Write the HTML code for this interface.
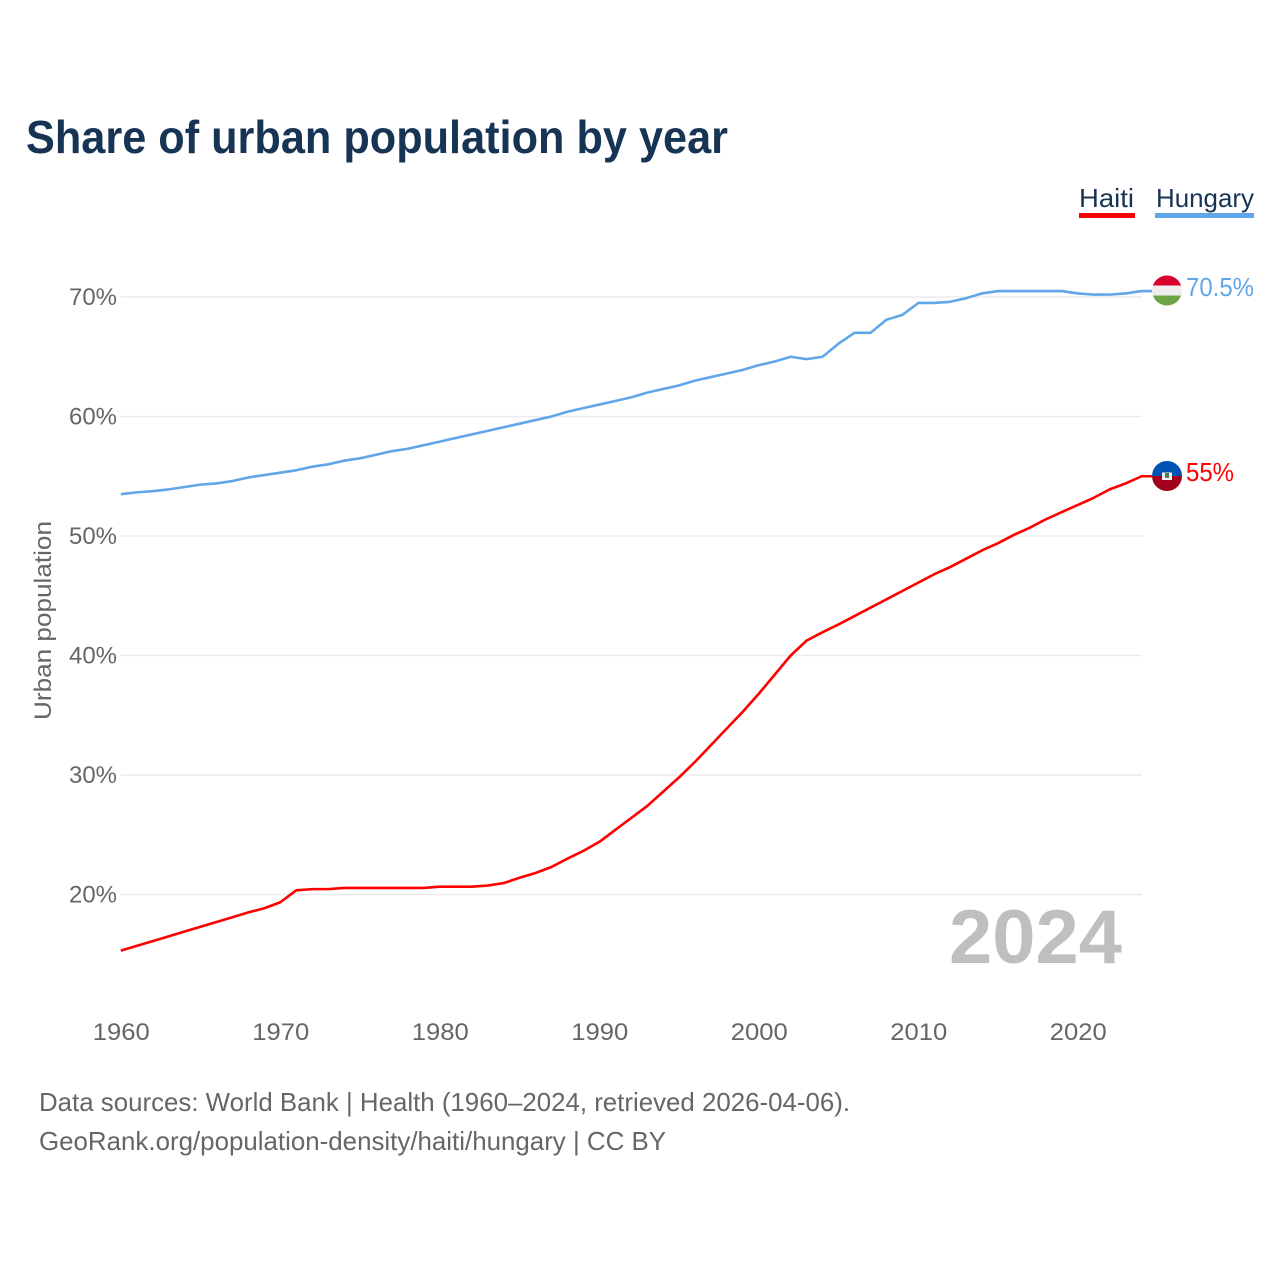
<!DOCTYPE html>
<html>
<head>
<meta charset="utf-8">
<style>
html,body{margin:0;padding:0;background:#fff;width:1280px;height:1280px;overflow:hidden}
svg{display:block;font-family:"Liberation Sans",sans-serif}
</style>
</head>
<body>
<svg id="chart" width="1280" height="1280" viewBox="0 0 1280 1280" xmlns="http://www.w3.org/2000/svg">
  <text x="26" y="153" font-size="46" font-weight="700" fill="#173454" textLength="702" lengthAdjust="spacingAndGlyphs">Share of urban population by year</text>
  <g id="grid"></g>
  <g id="yticks"></g>
  <g id="xticks"></g>
  <text transform="translate(51,720) rotate(-90)" font-size="24" fill="#666666" textLength="199" lengthAdjust="spacingAndGlyphs">Urban population</text>
  <text x="949" y="963" font-size="76" font-weight="700" fill="#bfbfbf" textLength="173" lengthAdjust="spacingAndGlyphs">2024</text>
  <g id="series"></g>

  <g>
    <text x="1079" y="207" font-size="26" fill="#173454" textLength="55" lengthAdjust="spacingAndGlyphs">Haiti</text>
    <rect x="1079" y="213" width="56" height="5" fill="#ff0000"></rect>
  </g>
  <g>
    <text x="1156" y="207" font-size="26" fill="#173454" textLength="98" lengthAdjust="spacingAndGlyphs">Hungary</text>
    <rect x="1155" y="213" width="99" height="5" fill="#62a6ea"></rect>
  </g>

  <defs>
    <clipPath id="flagClipHu"><circle cx="1167" cy="290.5" r="15"></circle></clipPath>
    <clipPath id="flagClipHt"><circle cx="1167" cy="476" r="15"></circle></clipPath>
  </defs>
  <g id="flag-hungary" clip-path="url(#flagClipHu)">
    <rect x="1152" y="275.5" width="30" height="10" fill="#d8002c"></rect>
    <rect x="1152" y="285.5" width="30" height="10" fill="#eeeeee"></rect>
    <rect x="1152" y="295.5" width="30" height="10" fill="#6da544"></rect>
  </g>
  <g id="flag-haiti" clip-path="url(#flagClipHt)">
    <rect x="1152" y="461" width="30" height="15" fill="#0052b4"></rect>
    <rect x="1152" y="476" width="30" height="15" fill="#a2001d"></rect>
    <rect x="1162" y="472.5" width="10" height="7.5" fill="#f0f0f0"></rect>
    <rect x="1165" y="473" width="4" height="5" fill="#4f7a5a"></rect>
  </g>
  <text x="1186" y="296" font-size="26" fill="#62a6ea" textLength="68" lengthAdjust="spacingAndGlyphs">70.5%</text>
  <text x="1186" y="481" font-size="26" fill="#ff0000" textLength="48" lengthAdjust="spacingAndGlyphs">55%</text>

  <text x="39" y="1111" font-size="26" fill="#666666" textLength="811" lengthAdjust="spacingAndGlyphs">Data sources: World Bank | Health (1960–2024, retrieved 2026-04-06).</text>
  <a><text x="39" y="1150" font-size="26" fill="#666666" textLength="627" lengthAdjust="spacingAndGlyphs">GeoRank.org/population-density/haiti/hungary | CC BY</text></a>
</svg>
<script>
const startYear = 1960;
const haitiValues = [15.3,15.7,16.1,16.5,16.9,17.3,17.7,18.1,18.5,18.85,19.35,20.35,20.45,20.45,20.55,20.55,20.55,20.55,20.55,20.55,20.65,20.65,20.65,20.75,20.95,21.4,21.8,22.3,23,23.65,24.4,25.4,26.4,27.4,28.6,29.8,31.1,32.5,33.9,35.3,36.8,38.4,40,41.25,41.95,42.6,43.3,44,44.7,45.4,46.1,46.8,47.4,48.1,48.8,49.4,50.1,50.7,51.4,52,52.6,53.2,53.9,54.4,55];
const hungaryValues = [53.5,53.65,53.75,53.9,54.1,54.3,54.4,54.6,54.9,55.1,55.3,55.5,55.8,56,56.3,56.5,56.8,57.1,57.3,57.6,57.9,58.2,58.5,58.8,59.1,59.4,59.7,60,60.4,60.7,61,61.3,61.6,62,62.3,62.6,63,63.3,63.6,63.9,64.3,64.6,65,64.8,65,66.1,67,67,68.1,68.5,69.5,69.5,69.6,69.9,70.3,70.5,70.5,70.5,70.5,70.5,70.3,70.2,70.2,70.3,70.5];
const yTickValues = [20,30,40,50,60,70];
const xTickValues = [1960,1970,1980,1990,2000,2010,2020];

const NS = 'http://www.w3.org/2000/svg';
const xScale = year => 120.8 + (year - 1960) * 15.95;
const yScale = value => 894.5 - (value - 20) * 11.95;

function make(tag, parent, attrs) {
  const el = document.createElementNS(NS, tag);
  for (const k in attrs) el.setAttribute(k, attrs[k]);
  parent.appendChild(el);
  return el;
}

const gridG = document.getElementById('grid');
const yG = document.getElementById('yticks');
const xG = document.getElementById('xticks');
const seriesG = document.getElementById('series');

yTickValues.forEach(v => {
  const line = make('line', gridG, {x1: 121, x2: 1142, y1: yScale(v), y2: yScale(v), stroke: '#ebebeb', 'stroke-width': 1.5});
  
  
  const t = make('text', yG, {x: 117, y: yScale(v) + 8, 'text-anchor': 'end', 'font-size': 24, fill: '#666666', textLength: 48, lengthAdjust: 'spacingAndGlyphs'});
  t.textContent = v + '%';
  
  
});

xTickValues.forEach(y => {
  const t = make('text', xG, {x: xScale(y) + 0.5, y: 1040, 'text-anchor': 'middle', 'font-size': 24, fill: '#666666', textLength: 57, lengthAdjust: 'spacingAndGlyphs'});
  t.textContent = y;
  
  
});

function drawSeries(values, color) {
  const pts = values.map((v, i) => xScale(startYear + i).toFixed(2) + ',' + yScale(v).toFixed(2));
  const last = values[values.length - 1];
  pts.push('1152,' + yScale(last).toFixed(2));
  return make('polyline', seriesG, {points: pts.join(' '), fill: 'none', stroke: color, 'stroke-width': 2.6, 'stroke-linejoin': 'round'});
}

const haitiLine = drawSeries(haitiValues, '#ff0000');



const hungaryLine = drawSeries(hungaryValues, '#62a6ea');


</script>
</body>
</html>
